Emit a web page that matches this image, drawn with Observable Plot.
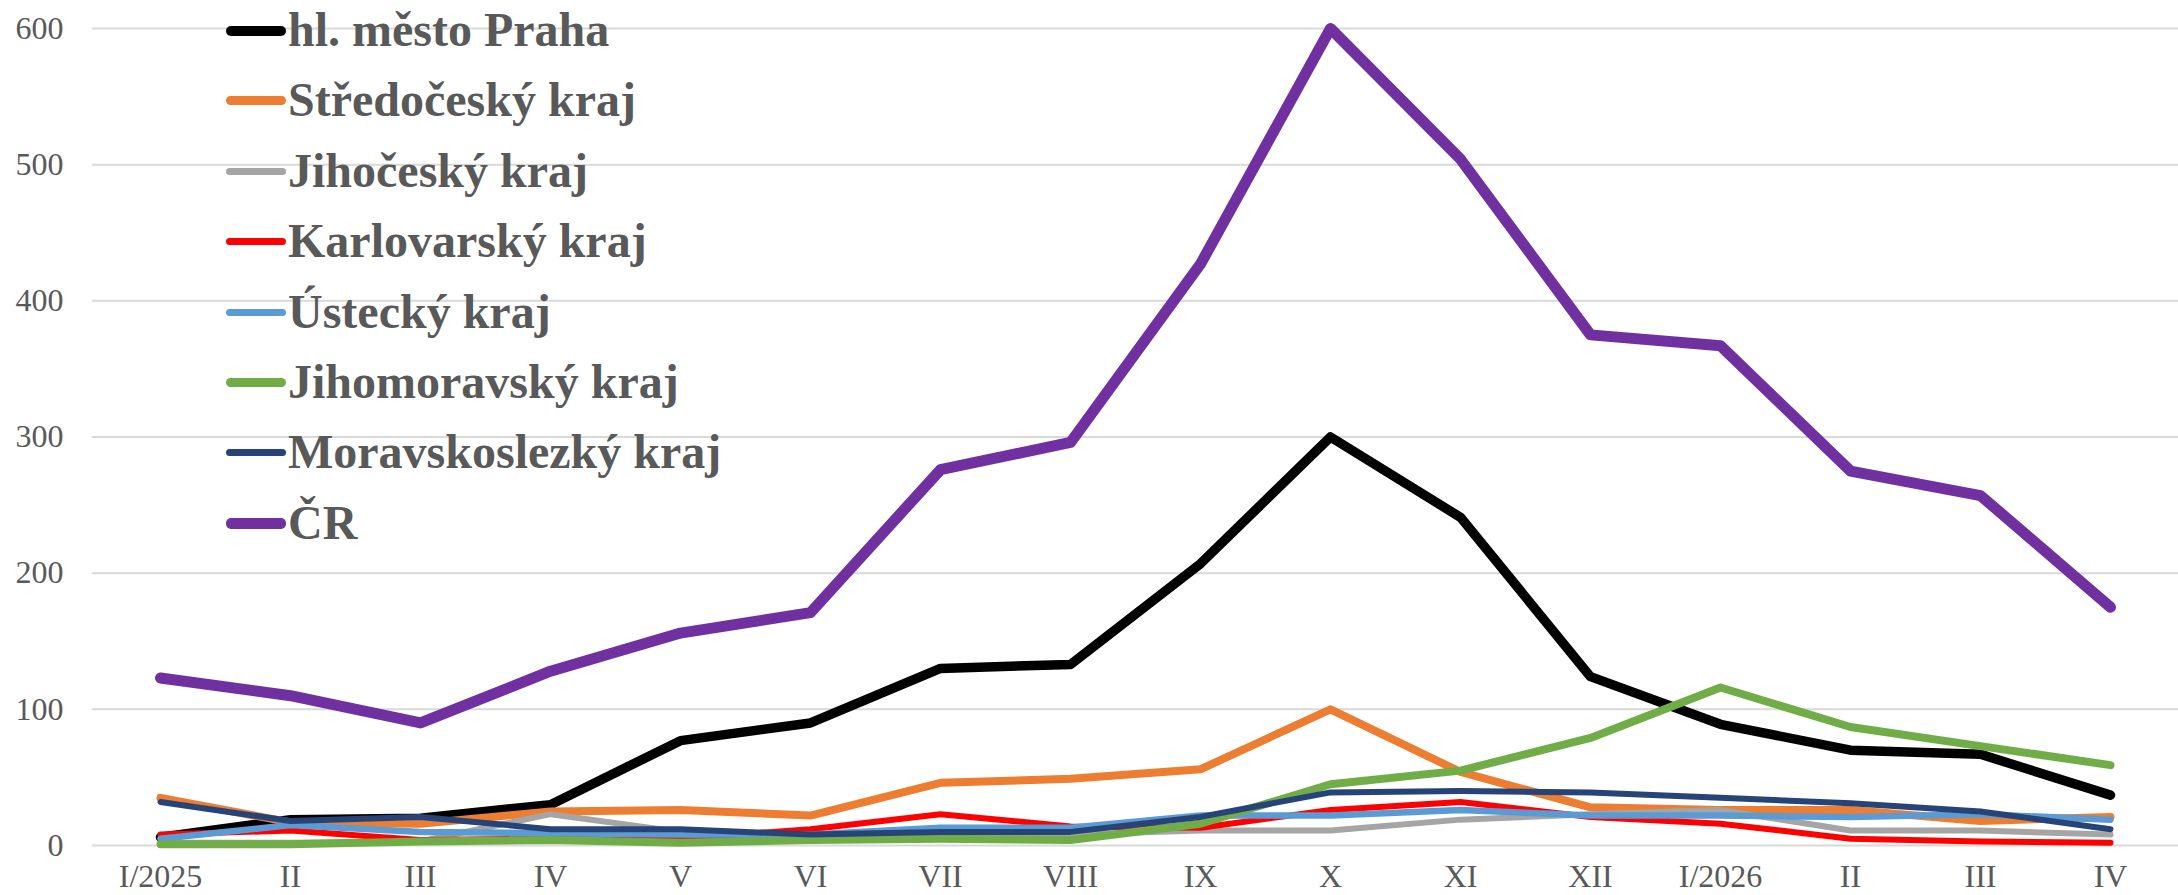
<!DOCTYPE html>
<html>
<head>
<meta charset="utf-8">
<script src="https://cdn.jsdelivr.net/npm/d3@7"></script>
<script src="https://cdn.jsdelivr.net/npm/@observablehq/plot@0.6"></script>
<style>
  html, body { margin: 0; padding: 0; background: #ffffff; }
  #wrap { position: relative; width: 2178px; height: 895px; overflow: hidden; }
  #legend { position: absolute; left: 226px; top: 0; font-family: "Liberation Serif", "Times New Roman", serif; font-weight: bold; color: #595959; font-size: 48px; }
  .item { position: absolute; left: 0; height: 70px; white-space: nowrap; }
  .sw { position: absolute; left: 0; width: 60px; border-radius: 5px; }
  .lab { position: absolute; left: 62px; line-height: 1; }
  svg text { font-family: "Liberation Serif", "Times New Roman", serif; }
</style>
</head>
<body>
<div id="wrap"><div id="legend"></div></div>
<script>
const months = ["I/2025","II","III","IV","V","VI","VII","VIII","IX","X","XI","XII","I/2026","II","III","IV"];
const yTicks = [0, 100, 200, 300, 400, 500, 600];

const seriesNames = ["hl. město Praha","Středočeský kraj","Jihočeský kraj","Karlovarský kraj","Ústecký kraj","Jihomoravský kraj","Moravskoslezký kraj","ČR"];
const seriesColors = ["#000000","#ED7D31","#A5A5A5","#FF0000","#5B9BD5","#70AD47","#264478","#7030A0"];
const seriesWidths = [9.5, 8, 6, 6, 6.5, 8, 6, 11];
const legendWidths = [10, 9, 7, 7, 7, 9, 7, 11];

const praha          = [6, 19, 20, 30, 77, 90, 130, 133, 207, 300, 241, 124, 89, 70, 67, 37];
const stredocesky    = [35, 17, 16, 25, 26, 22, 46, 49, 56, 100, 54, 28, 26, 26, 18, 21];
const jihocesky      = [2, 2, 3, 23, 10, 5, 5, 8, 11, 11, 19, 23, 26, 11, 11, 8];
const karlovarsky    = [8, 11, 4, 5, 5, 12, 23, 14, 13, 26, 32, 21, 16, 5, 3, 2];
const ustecky        = [5, 15, 10, 9, 8, 8, 13, 13, 22, 22, 26, 22, 22, 21, 23, 19];
const jihomoravsky   = [1, 1, 3, 4, 2, 4, 5, 4, 16, 45, 55, 79, 116, 87, 73, 59];
const moravskoslezsky= [32, 18, 21, 12, 12, 8, 10, 10, 21, 39, 40, 39, 35, 31, 25, 12];
const cr             = [123, 110, 90, 128, 156, 171, 276, 296, 427, 600, 504, 375, 367, 275, 257, 175];

const seriesValues = [praha, stredocesky, jihocesky, karlovarsky, ustecky, jihomoravsky, moravskoslezsky, cr];

const lineMarks = seriesValues.map((vals, s) =>
  Plot.line(vals.map((v, i) => ({i, v})), {
    x: "i", y: "v",
    stroke: seriesColors[s],
    strokeWidth: seriesWidths[s],
    strokeLinejoin: "round",
    strokeLinecap: "round"
  })
);

const font = "'Liberation Serif', 'Times New Roman', serif";

const chart = Plot.plot({
  width: 2178,
  height: 895,
  marginLeft: 92,
  marginRight: 0,
  marginTop: 28,
  marginBottom: 50,
  style: {fontFamily: font, fontSize: "32px", color: "#595959", background: "#ffffff"},
  x: {type: "point", domain: d3.range(months.length), padding: 0.5},
  y: {domain: [0, 600]},
  marks: [
    Plot.gridY(yTicks, {stroke: "#D9D9D9", strokeWidth: 2, strokeOpacity: 1}),
    Plot.axisY(yTicks, {tickSize: 0, tickPadding: 29, fill: "#595959", fontSize: 32, fontFamily: font, label: null}),
    Plot.axisX(d3.range(months.length), {tickSize: 0, tickPadding: 19, fill: "#595959", fontSize: 32, fontFamily: font, label: null, tickFormat: i => months[i]}),
    ...lineMarks
  ]
});
document.getElementById("wrap").prepend(chart);
chart.style.position = "absolute";
chart.style.left = "0";
chart.style.top = "0";

const legend = document.getElementById("legend");
seriesNames.forEach((name, s) => {
  const item = document.createElement("div");
  item.className = "item";
  item.style.top = (s * 70.4) + "px";
  const sw = document.createElement("div");
  sw.className = "sw";
  sw.style.background = seriesColors[s];
  const h = legendWidths[s];
  sw.style.height = h + "px";
  sw.style.top = (30.5 - h / 2) + "px";
  const lab = document.createElement("div");
  lab.className = "lab";
  lab.textContent = name;
  lab.style.top = "6px";
  item.appendChild(sw);
  item.appendChild(lab);
  legend.appendChild(item);
});
</script>
</body>
</html>
